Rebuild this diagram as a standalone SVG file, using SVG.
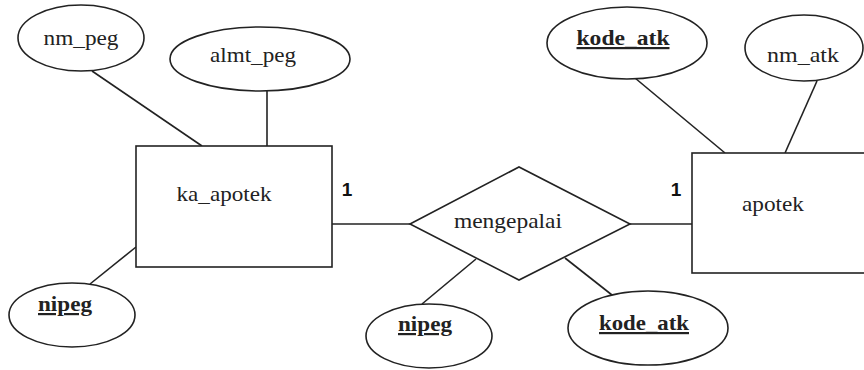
<svg xmlns="http://www.w3.org/2000/svg" width="864" height="370" viewBox="0 0 864 370">
<defs>
<style>
.s{fill:#fff;stroke:#222;stroke-width:1.6}
.c line{stroke:#222;stroke-width:1.6}
</style>
</defs>
<rect width="864" height="370" fill="#fff"/>
<g class="c" id="connectors">
<line x1="92" y1="71" x2="202" y2="146"/>
<line x1="267" y1="91" x2="267" y2="146"/>
<line x1="90" y1="284" x2="136" y2="247"/>
<line x1="332" y1="224" x2="410" y2="224"/>
<line x1="630" y1="224" x2="692" y2="224"/>
<line x1="635" y1="78" x2="725" y2="153"/>
<line x1="817" y1="81" x2="785" y2="153"/>
<line x1="422" y1="304" x2="476" y2="259"/>
<line x1="565" y1="258" x2="612" y2="295"/>
</g>
<g id="nm_peg"><ellipse class="s" cx="81" cy="38" rx="63" ry="33"/><text font-family="Liberation Serif" font-size="22" fill="#222" text-anchor="middle" x="81" y="45" textLength="75" lengthAdjust="spacingAndGlyphs">nm_peg</text></g>
<g id="almt_peg"><ellipse class="s" cx="260" cy="59" rx="90" ry="32"/><text font-family="Liberation Serif" font-size="22" fill="#222" text-anchor="middle" x="253" y="62" textLength="86" lengthAdjust="spacingAndGlyphs">almt_peg</text></g>
<g id="ka_apotek"><rect class="s" x="136" y="146" width="196" height="121"/><text font-family="Liberation Serif" font-size="22" fill="#222" text-anchor="middle" x="224" y="201" textLength="95" lengthAdjust="spacingAndGlyphs">ka_apotek</text></g>
<g id="nipeg1"><ellipse class="s" cx="72" cy="315" rx="63" ry="32"/><text font-family="Liberation Serif" font-size="22" font-weight="bold" text-decoration="underline" fill="#222" text-anchor="middle" x="65" y="311" textLength="54" lengthAdjust="spacingAndGlyphs">nipeg</text></g>
<g id="mengepalai"><polygon class="s" points="410,224 519,167 630,224 519,280"/><text font-family="Liberation Serif" font-size="22" fill="#222" text-anchor="middle" x="508" y="228" textLength="108" lengthAdjust="spacingAndGlyphs">mengepalai</text></g>
<g id="apotek"><rect class="s" x="692" y="153" width="180" height="120"/><text font-family="Liberation Serif" font-size="22" fill="#222" text-anchor="middle" x="773" y="211" textLength="62" lengthAdjust="spacingAndGlyphs">apotek</text></g>
<g id="kode_atk1"><ellipse class="s" cx="627" cy="43" rx="80" ry="36"/><text font-family="Liberation Serif" font-size="22" font-weight="bold" text-decoration="underline" fill="#222" text-anchor="middle" x="623" y="45" textLength="93" lengthAdjust="spacingAndGlyphs">kode_atk</text></g>
<g id="nm_atk"><ellipse class="s" cx="804" cy="48" rx="59" ry="33"/><text font-family="Liberation Serif" font-size="22" fill="#222" text-anchor="middle" x="803" y="62" textLength="72" lengthAdjust="spacingAndGlyphs">nm_atk</text></g>
<g id="nipeg2"><ellipse class="s" cx="429" cy="336" rx="63" ry="32"/><text font-family="Liberation Serif" font-size="22" font-weight="bold" text-decoration="underline" fill="#222" text-anchor="middle" x="425" y="331" textLength="54" lengthAdjust="spacingAndGlyphs">nipeg</text></g>
<g id="kode_atk2"><ellipse class="s" cx="648" cy="328" rx="80" ry="37"/><text font-family="Liberation Serif" font-size="22" font-weight="bold" text-decoration="underline" fill="#222" text-anchor="middle" x="644" y="330" textLength="90" lengthAdjust="spacingAndGlyphs">kode_atk</text></g>
<g id="card"><text font-family="Liberation Sans" font-size="19" font-weight="bold" fill="#111" text-anchor="middle" x="347" y="196">1</text><text font-family="Liberation Sans" font-size="19" font-weight="bold" fill="#111" text-anchor="middle" x="676" y="196">1</text></g>
</svg>
